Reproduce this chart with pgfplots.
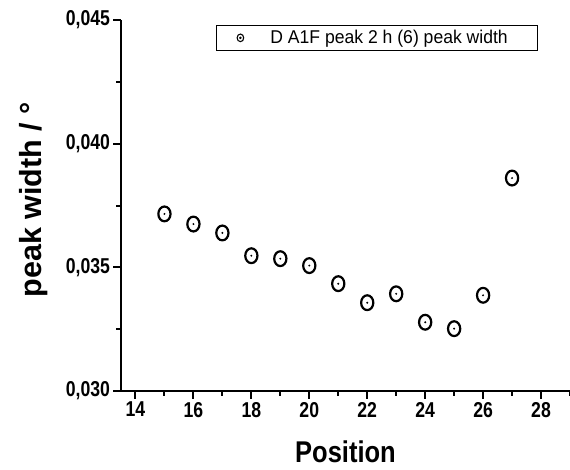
\documentclass[border=0pt]{standalone}
\usepackage{pgfplots}
\pgfplotsset{compat=1.18}
\usepackage{fontspec}
\setmainfont{Liberation Sans}
\newfontfamily\tickfont[FakeStretch=0.82]{Liberation Sans}
\newfontfamily\xlabfont[FakeStretch=0.85]{Liberation Sans}
\newfontfamily\legfont[FakeStretch=0.95]{Liberation Sans}
\pgfdeclareplotmark{ellodot}{%
  \pgfpathellipse{\pgfpointorigin}{\pgfqpoint{6.1pt}{0pt}}{\pgfqpoint{0pt}{7.4pt}}%
  \pgfusepathqstroke
  \pgfpathcircle{\pgfpointorigin}{1.1pt}\pgfusepathqfill}
\begin{document}
\begin{tikzpicture}
\useasboundingbox (-121pt,-78pt) rectangle (449pt,391pt);
\begin{axis}[
  at={(0pt,0pt)}, anchor=south west,
  scale only axis, width=449pt, height=371pt,
  xmin=13.5, xmax=29, ymin=0.030, ymax=0.045,
  axis x line*=bottom, axis y line*=left,
  axis line style={line width=2.8pt, -},
  xtick={14,16,...,28}, minor xtick={15,17,...,29},
  ytick={0.030,0.035,0.040,0.045}, minor ytick={0.0325,0.0375,0.0425},
  tick align=outside, major tick length=7.5pt, minor tick length=4.5pt,
  every tick/.style={line width=2pt, black},
  scaled y ticks=false,
  yticklabel style={/pgf/number format/.cd, fixed, fixed zerofill, precision=3, use comma},
  ticklabel style={font=\tickfont\fontsize{21.5}{21.5}\selectfont\bfseries},
  /pgf/number format/assume math mode=true,
  xlabel={Position}, ylabel={peak width / °},
  xlabel style={font=\xlabfont\fontsize{30}{30}\selectfont\bfseries,
    at={(axis description cs:0.5,0)}, anchor=base, yshift=-71pt, text depth=0pt},
  ylabel style={font=\fontsize{30.5}{30.5}\selectfont\bfseries,
    at={([xshift=-79pt]axis description cs:0,0.515)}, anchor=base},
  legend style={at={(axis description cs:0.2116,0.9865)}, anchor=north west,
    draw=black, line width=0.8pt, font=\legfont\fontsize{18.5}{18.5}\selectfont,
    inner xsep=0pt, inner ysep=0pt, nodes={inner xsep=0pt, inner ysep=5pt}},
  legend image code/.code={%
    \path[draw=none] (-24pt,0pt) -- (24pt,0pt);
    \draw[black,line width=1.1pt] (0pt,0pt) ellipse (3.3pt and 3.8pt);
    \fill[black] (0pt,0pt) circle (0.8pt);},
]
\addplot[only marks, mark=ellodot, mark options={line width=2.2pt, black}] coordinates {
(15,0.03716) (16,0.03675) (17,0.03639) (18,0.03547) (19,0.03535)
(20,0.03507) (21,0.03434) (22,0.03357) (23,0.03393) (24,0.03278)
(25,0.03252) (26,0.03387) (27,0.03861)};
\addlegendentry{\kern6pt D A1F peak 2 h (6) peak width\kern30pt\null}
\end{axis}
\end{tikzpicture}
\end{document}
